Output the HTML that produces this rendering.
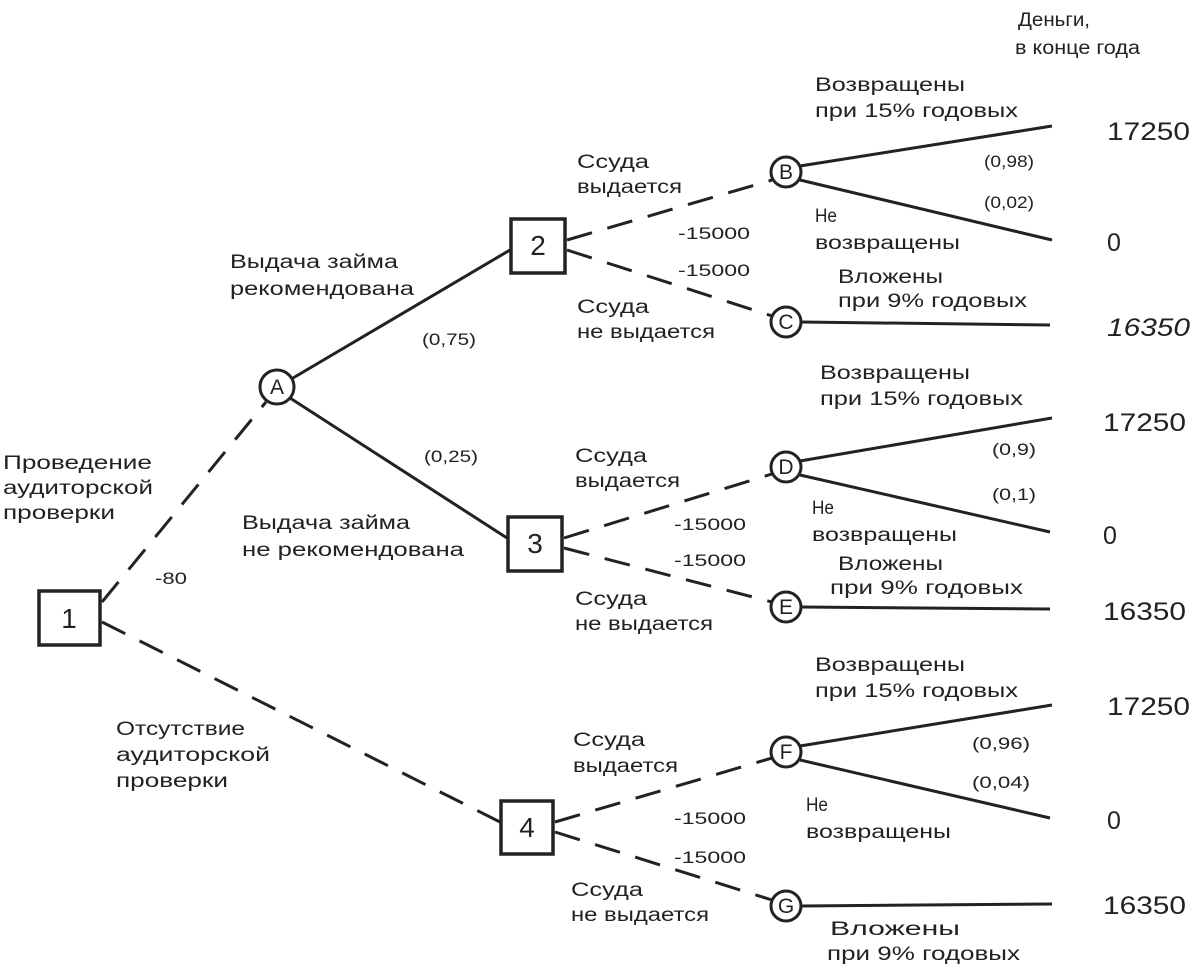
<!DOCTYPE html>
<html><head><meta charset="utf-8"><style>
body{margin:0;background:#fff;}
svg text{font-family:"Liberation Sans","DejaVu Sans",sans-serif;fill:#222;}
</style></head><body>
<svg width="1204" height="968" viewBox="0 0 1204 968" xmlns="http://www.w3.org/2000/svg">
<g stroke="#222" stroke-width="3" fill="none">
<g stroke-dasharray="26,16">
<line x1="102" y1="602" x2="266" y2="402"/>
<line x1="102" y1="622" x2="500" y2="822"/>
<line x1="567" y1="240" x2="772" y2="180"/>
<line x1="567" y1="250" x2="772" y2="316"/>
<line x1="564" y1="538" x2="772" y2="474"/>
<line x1="564" y1="548" x2="772" y2="602"/>
<line x1="555" y1="822" x2="772" y2="758"/>
<line x1="555" y1="832" x2="772" y2="900"/>
</g>
<line x1="293" y1="378" x2="510" y2="250"/>
<line x1="290" y1="398" x2="507" y2="538"/>
<line x1="800" y1="166" x2="1052" y2="126"/>
<line x1="800" y1="180" x2="1052" y2="240"/>
<line x1="801" y1="322" x2="1050" y2="325"/>
<line x1="800" y1="461" x2="1052" y2="418"/>
<line x1="800" y1="475" x2="1050" y2="532"/>
<line x1="801" y1="607" x2="1050" y2="609"/>
<line x1="800" y1="746" x2="1052" y2="705"/>
<line x1="800" y1="760" x2="1050" y2="818"/>
<line x1="801" y1="906" x2="1052" y2="904"/>
<rect x="39" y="591" width="61" height="54" stroke-width="3.5" fill="#fff"/>
<rect x="511" y="219" width="54" height="54" stroke-width="3.5" fill="#fff"/>
<rect x="508" y="517" width="54" height="54" stroke-width="3.5" fill="#fff"/>
<rect x="501" y="801" width="52" height="53" stroke-width="3.5" fill="#fff"/>
<circle cx="277" cy="387" r="17" fill="#fff"/>
<circle cx="786" cy="172" r="15" fill="#fff"/>
<circle cx="786" cy="322" r="15" fill="#fff"/>
<circle cx="786" cy="467" r="15" fill="#fff"/>
<circle cx="786" cy="607" r="15" fill="#fff"/>
<circle cx="786" cy="752" r="15" fill="#fff"/>
<circle cx="786" cy="906" r="15" fill="#fff"/>
</g>
<g font-size="28" text-anchor="middle">
<text x="69" y="628">1</text>
<text x="538" y="255">2</text>
<text x="535" y="553">3</text>
<text x="527" y="837">4</text>
</g>
<g font-size="21" text-anchor="middle">
<text x="277" y="394">A</text>
<text x="786" y="179">B</text>
<text x="786" y="329">C</text>
<text x="786" y="474">D</text>
<text x="786" y="614">E</text>
<text x="786" y="759">F</text>
<text x="786" y="913">G</text>
</g>
<g font-size="19" lengthAdjust="spacingAndGlyphs">
<text x="1018" y="26" textLength="72" lengthAdjust="spacingAndGlyphs">Деньги,</text>
<text x="1015" y="54" textLength="125" lengthAdjust="spacingAndGlyphs">в конце года</text>
<text x="3" y="469" textLength="149" lengthAdjust="spacingAndGlyphs">Проведение</text>
<text x="3" y="494" textLength="150" lengthAdjust="spacingAndGlyphs">аудиторской</text>
<text x="3" y="519" textLength="112" lengthAdjust="spacingAndGlyphs">проверки</text>
<text x="230" y="268" textLength="168" lengthAdjust="spacingAndGlyphs">Выдача займа</text>
<text x="230" y="295" textLength="184" lengthAdjust="spacingAndGlyphs">рекомендована</text>
<text x="242" y="529" textLength="168" lengthAdjust="spacingAndGlyphs">Выдача займа</text>
<text x="242" y="556" textLength="222" lengthAdjust="spacingAndGlyphs">не рекомендована</text>
<text x="116" y="735" textLength="129" lengthAdjust="spacingAndGlyphs">Отсутствие</text>
<text x="116" y="761" textLength="154" lengthAdjust="spacingAndGlyphs">аудиторской</text>
<text x="116" y="787" textLength="112" lengthAdjust="spacingAndGlyphs">проверки</text>
<text x="577" y="168" textLength="72" lengthAdjust="spacingAndGlyphs">Ссуда</text>
<text x="577" y="193" textLength="105" lengthAdjust="spacingAndGlyphs">выдается</text>
<text x="577" y="313" textLength="72" lengthAdjust="spacingAndGlyphs">Ссуда</text>
<text x="577" y="338" textLength="138" lengthAdjust="spacingAndGlyphs">не выдается</text>
<text x="575" y="462" textLength="72" lengthAdjust="spacingAndGlyphs">Ссуда</text>
<text x="575" y="487" textLength="105" lengthAdjust="spacingAndGlyphs">выдается</text>
<text x="575" y="605" textLength="72" lengthAdjust="spacingAndGlyphs">Ссуда</text>
<text x="575" y="630" textLength="138" lengthAdjust="spacingAndGlyphs">не выдается</text>
<text x="573" y="746" textLength="72" lengthAdjust="spacingAndGlyphs">Ссуда</text>
<text x="573" y="772" textLength="105" lengthAdjust="spacingAndGlyphs">выдается</text>
<text x="571" y="896" textLength="72" lengthAdjust="spacingAndGlyphs">Ссуда</text>
<text x="571" y="921" textLength="138" lengthAdjust="spacingAndGlyphs">не выдается</text>
<text x="815" y="91" textLength="150" lengthAdjust="spacingAndGlyphs">Возвращены</text>
<text x="815" y="117" textLength="203" lengthAdjust="spacingAndGlyphs">при 15% годовых</text>
<text x="815" y="222" textLength="22" lengthAdjust="spacingAndGlyphs">Не</text>
<text x="815" y="249" textLength="145" lengthAdjust="spacingAndGlyphs">возвращены</text>
<text x="838" y="283" textLength="105" lengthAdjust="spacingAndGlyphs">Вложены</text>
<text x="838" y="307" textLength="189" lengthAdjust="spacingAndGlyphs">при 9% годовых</text>
<text x="820" y="379" textLength="150" lengthAdjust="spacingAndGlyphs">Возвращены</text>
<text x="820" y="405" textLength="203" lengthAdjust="spacingAndGlyphs">при 15% годовых</text>
<text x="812" y="514" textLength="22" lengthAdjust="spacingAndGlyphs">Не</text>
<text x="812" y="541" textLength="145" lengthAdjust="spacingAndGlyphs">возвращены</text>
<text x="838" y="570" textLength="105" lengthAdjust="spacingAndGlyphs">Вложены</text>
<text x="830" y="594" textLength="193" lengthAdjust="spacingAndGlyphs">при 9% годовых</text>
<text x="815" y="671" textLength="150" lengthAdjust="spacingAndGlyphs">Возвращены</text>
<text x="815" y="697" textLength="203" lengthAdjust="spacingAndGlyphs">при 15% годовых</text>
<text x="806" y="811" textLength="22" lengthAdjust="spacingAndGlyphs">Не</text>
<text x="806" y="838" textLength="145" lengthAdjust="spacingAndGlyphs">возвращены</text>
<text x="830" y="935" textLength="130" lengthAdjust="spacingAndGlyphs">Вложены</text>
<text x="827" y="960" textLength="193" lengthAdjust="spacingAndGlyphs">при 9% годовых</text>
</g>
<g font-size="17">
<text x="422" y="345" textLength="54" lengthAdjust="spacingAndGlyphs">(0,75)</text>
<text x="424" y="462" textLength="54" lengthAdjust="spacingAndGlyphs">(0,25)</text>
<text x="155" y="584" textLength="32" lengthAdjust="spacingAndGlyphs">-80</text>
<text x="678" y="239" textLength="72" lengthAdjust="spacingAndGlyphs">-15000</text>
<text x="678" y="276" textLength="72" lengthAdjust="spacingAndGlyphs">-15000</text>
<text x="674" y="530" textLength="72" lengthAdjust="spacingAndGlyphs">-15000</text>
<text x="674" y="566" textLength="72" lengthAdjust="spacingAndGlyphs">-15000</text>
<text x="674" y="824" textLength="72" lengthAdjust="spacingAndGlyphs">-15000</text>
<text x="674" y="863" textLength="72" lengthAdjust="spacingAndGlyphs">-15000</text>
<text x="984" y="167" textLength="50" lengthAdjust="spacingAndGlyphs">(0,98)</text>
<text x="984" y="208" textLength="50" lengthAdjust="spacingAndGlyphs">(0,02)</text>
<text x="992" y="455" textLength="44" lengthAdjust="spacingAndGlyphs">(0,9)</text>
<text x="992" y="500" textLength="44" lengthAdjust="spacingAndGlyphs">(0,1)</text>
<text x="972" y="749" textLength="58" lengthAdjust="spacingAndGlyphs">(0,96)</text>
<text x="972" y="788" textLength="58" lengthAdjust="spacingAndGlyphs">(0,04)</text>
</g>
<g font-size="25">
<text x="1107" y="140" textLength="83" lengthAdjust="spacingAndGlyphs">17250</text>
<text x="1107" y="251">0</text>
<text x="1107" y="336" font-style="italic" textLength="83" lengthAdjust="spacingAndGlyphs">16350</text>
<text x="1103" y="431" textLength="83" lengthAdjust="spacingAndGlyphs">17250</text>
<text x="1103" y="544">0</text>
<text x="1103" y="620" textLength="83" lengthAdjust="spacingAndGlyphs">16350</text>
<text x="1107" y="715" textLength="83" lengthAdjust="spacingAndGlyphs">17250</text>
<text x="1107" y="829">0</text>
<text x="1103" y="914" textLength="83" lengthAdjust="spacingAndGlyphs">16350</text>
</g>
</svg>
</body></html>
